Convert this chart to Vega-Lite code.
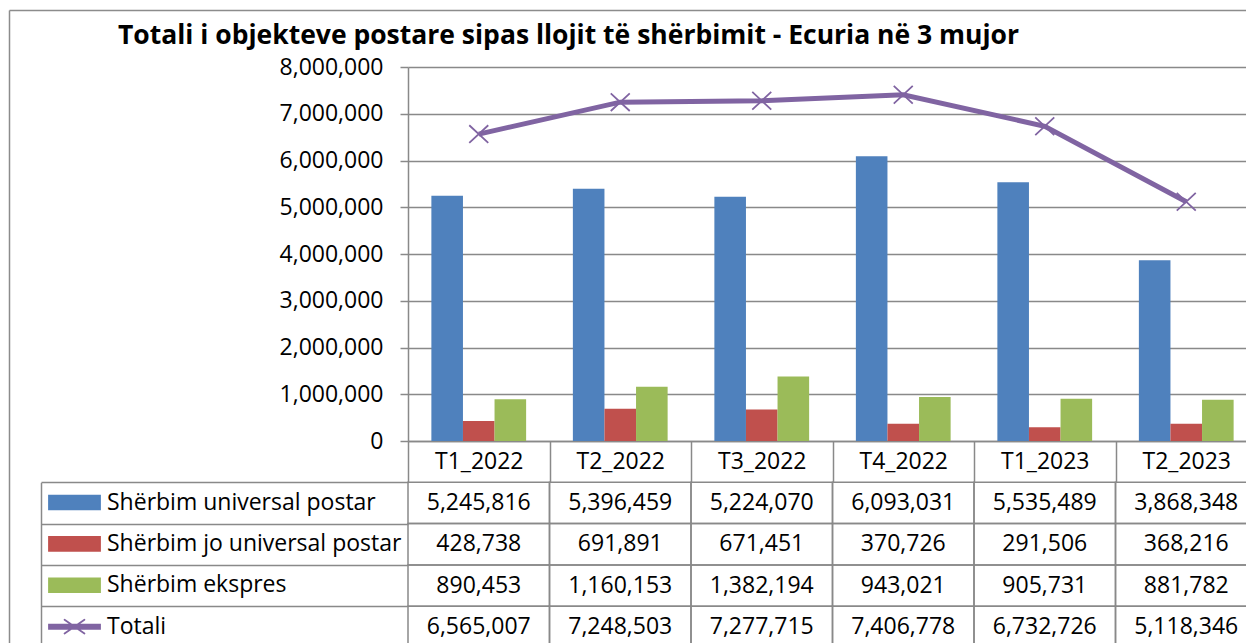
{
  "$schema": "https://vega.github.io/schema/vega-lite/v6.json",
  "autosize": {"type": "none"},
  "padding": {"left": 408, "top": 67, "right": 0, "bottom": 202},
  "width": 838,
  "height": 374,
  "background": "white",
  "config": {"view": {"stroke": null}, "font": "Open Sans"},
  "title": {
    "text": "Totali i objekteve postare sipas llojit të shërbimit - Ecuria në 3 mujor",
    "font": "Open Sans", "fontSize": 26.5, "fontWeight": "bold", "color": "black",
    "anchor": "start", "frame": "group", "dx": -290, "offset": -60, "baseline": "alphabetic"
  },
  "data": {"values": [
    {"q": "T1_2022", "s": "Shërbim universal postar", "v": 5245816},
    {"q": "T1_2022", "s": "Shërbim jo universal postar", "v": 428738},
    {"q": "T1_2022", "s": "Shërbim ekspres", "v": 890453},
    {"q": "T1_2022", "s": "Totali", "v": 6565007},
    {"q": "T2_2022", "s": "Shërbim universal postar", "v": 5396459},
    {"q": "T2_2022", "s": "Shërbim jo universal postar", "v": 691891},
    {"q": "T2_2022", "s": "Shërbim ekspres", "v": 1160153},
    {"q": "T2_2022", "s": "Totali", "v": 7248503},
    {"q": "T3_2022", "s": "Shërbim universal postar", "v": 5224070},
    {"q": "T3_2022", "s": "Shërbim jo universal postar", "v": 671451},
    {"q": "T3_2022", "s": "Shërbim ekspres", "v": 1382194},
    {"q": "T3_2022", "s": "Totali", "v": 7277715},
    {"q": "T4_2022", "s": "Shërbim universal postar", "v": 6093031},
    {"q": "T4_2022", "s": "Shërbim jo universal postar", "v": 370726},
    {"q": "T4_2022", "s": "Shërbim ekspres", "v": 943021},
    {"q": "T4_2022", "s": "Totali", "v": 7406778},
    {"q": "T1_2023", "s": "Shërbim universal postar", "v": 5535489},
    {"q": "T1_2023", "s": "Shërbim jo universal postar", "v": 291506},
    {"q": "T1_2023", "s": "Shërbim ekspres", "v": 905731},
    {"q": "T1_2023", "s": "Totali", "v": 6732726},
    {"q": "T2_2023", "s": "Shërbim universal postar", "v": 3868348},
    {"q": "T2_2023", "s": "Shërbim jo universal postar", "v": 368216},
    {"q": "T2_2023", "s": "Shërbim ekspres", "v": 881782},
    {"q": "T2_2023", "s": "Totali", "v": 5118346}
  ]},
  "layer": [
    {
      "encoding": {
        "x": {
          "field": "q", "type": "nominal",
          "sort": ["T1_2022", "T2_2022", "T3_2022", "T4_2022", "T1_2023", "T2_2023"],
          "scale": {"range": [0, 849], "paddingInner": 0, "paddingOuter": 0},
          "axis": {
            "orient": "bottom", "title": null, "labelFontSize": 23, "labelFont": "Open Sans", "labelColor": "black",
            "labelAngle": 0, "labelBaseline": "middle", "labelPadding": -20.7,
            "tickBand": "extent", "tickSize": 41.3, "tickColor": "#898989", "tickWidth": 1.5,
            "domainColor": "#898989", "domainWidth": 1.5, "grid": false, "labelOverlap": false
          }
        }
      },
      "layer": [
        {
          "encoding": {
            "y": {
              "field": "v", "type": "quantitative",
              "scale": {"domain": [0, 8000000], "nice": false},
              "axis": {
                "orient": "left", "title": null,
                "values": [0, 1000000, 2000000, 3000000, 4000000, 5000000, 6000000, 7000000, 8000000],
                "labelExpr": "format(datum.value, ',')",
                "labelFontSize": 23, "labelFont": "Open Sans", "labelColor": "black",
                "labelPadding": 17, "tickSize": 8, "tickColor": "#898989", "tickWidth": 1.5,
                "domainColor": "#898989", "domainWidth": 1.5,
                "grid": true, "gridColor": "#898989", "gridWidth": 1.5
              }
            },
            "color": {
              "field": "s", "type": "nominal",
              "scale": {
                "domain": ["Shërbim universal postar", "Shërbim jo universal postar", "Shërbim ekspres", "Totali"],
                "range": ["#4F81BD", "#C0504D", "#9BBB59", "#8064A2"]
              },
              "legend": {
                "orient": "none", "legendX": -360, "legendY": 409, "direction": "vertical",
                "title": null, "labelFontSize": 23, "labelFont": "Open Sans", "labelColor": "black",
                "labelOffset": 6, "symbolOffset": 0, "labelLimit": 500, "rowPadding": 2.4, "symbolSize": 2601,
                "symbolStrokeWidth": 1.8,
                "padding": 0, "offset": 0,
                "encode": {
                  "symbols": {
                    "update": {
                      "shape": {"signal": "datum.value === 'Totali' ? 'M-1,-0.08H1V0.08H-1Z M-0.39,-0.27L0.39,0.27 M-0.39,0.27L0.39,-0.27' : 'M-1,-0.27H1V0.27H-1Z'"},
                      "fill": {"signal": "scale('color', datum.value)"},
                      "fillOpacity": {"value": 1},
                      "stroke": {"signal": "datum.value === 'Totali' ? scale('color', datum.value) : 'transparent'"},
                      "strokeWidth": {"value": 1.8},
                      "strokeCap": {"value": "round"},
                      "size": {"value": 2601},
                      "opacity": {"value": 1}
                    }
                  }
                }
              }
            }
          },
          "layer": [
            {
              "transform": [{"filter": "datum.s !== 'Totali'"}],
              "mark": {"type": "bar"},
              "encoding": {
                "xOffset": {
                  "field": "s", "type": "nominal",
                  "sort": ["Shërbim universal postar", "Shërbim jo universal postar", "Shërbim ekspres"],
                  "scale": {"paddingInner": 0, "paddingOuter": 0.74}
                }
              }
            },
            {
              "transform": [{"filter": "datum.s === 'Totali'"}],
              "mark": {"type": "line", "strokeWidth": 5}
            },
            {
              "transform": [{"filter": "datum.s === 'Totali'"}],
              "mark": {"type": "point", "shape": "M-1,-0.93L1,0.93M-1,0.93L1,-0.93", "filled": false, "size": 361, "strokeWidth": 1.8, "opacity": 1}
            }
          ]
        },
        {
          "encoding": {
            "y": {
              "field": "s", "type": "nominal",
              "sort": ["Shërbim universal postar", "Shërbim jo universal postar", "Shërbim ekspres", "Totali"],
              "scale": {"range": [415.3, 580.5], "paddingInner": 0, "paddingOuter": 0},
              "axis": {
                "orient": "left", "offset": 367, "tickSize": -367, "tickBand": "extent",
                "labels": false, "title": null, "grid": false,
                "domainColor": "#898989", "domainWidth": 1.5, "tickColor": "#898989", "tickWidth": 1.5
              }
            }
          },
          "layer": [
            {
              "mark": {"type": "rect", "fill": "white", "fillOpacity": 0, "stroke": "#898989", "strokeWidth": 1.5}
            },
            {
              "mark": {"type": "text", "fontSize": 23, "font": "Open Sans", "color": "black"},
              "encoding": {
                "text": {"field": "v", "type": "quantitative", "format": ","}
              }
            }
          ]
        }
      ],
      "resolve": {"scale": {"y": "independent"}, "axis": {"y": "independent"}}
    },
    {
      "transform": [{"filter": "datum.q === 'T1_2022' && datum.s === 'Totali'"}],
      "mark": {"type": "point", "opacity": 0},
      "encoding": {
        "x": {
          "datum": 0, "type": "quantitative",
          "scale": {"domain": [0, 1], "range": [-399, 849]},
          "axis": {"orient": "top", "offset": 57, "ticks": false, "labels": false, "grid": false, "title": null, "domainColor": "#8c8c8c", "domainWidth": 1.5}
        },
        "y": {
          "datum": 0, "type": "quantitative",
          "scale": {"domain": [0, 1], "range": [700, -57]},
          "axis": {"orient": "left", "offset": 399, "ticks": false, "labels": false, "grid": false, "title": null, "domainColor": "#8c8c8c", "domainWidth": 1.5}
        }
      }
    }
  ],
  "resolve": {"scale": {"x": "independent", "y": "independent"}, "axis": {"x": "independent", "y": "independent"}}
}
